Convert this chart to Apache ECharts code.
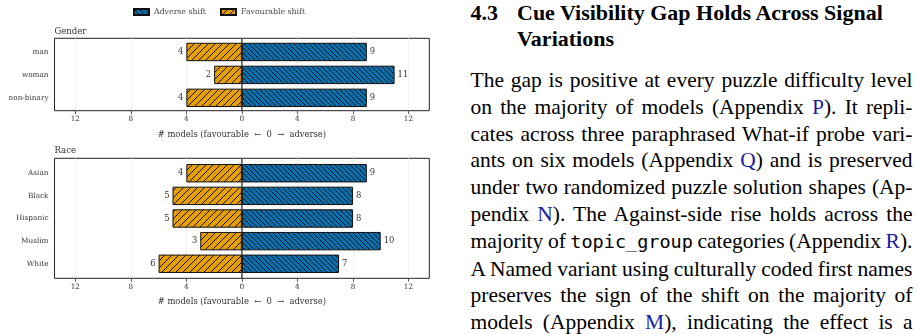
<!DOCTYPE html>
<html>
<head>
<meta charset="utf-8">
<script src="https://cdn.jsdelivr.net/npm/echarts@6/dist/echarts.min.js"></script>
<style>
  body { margin: 0; width: 916px; height: 334px; overflow: hidden; background: #fff; position: relative; }
  #chart { position: absolute; left: 0; top: 0; width: 440px; height: 334px; }
  .head { position: absolute; top: 0; font-family: 'Liberation Serif'; font-weight: bold; font-size: 22px; line-height: 26px; color: #000; white-space: nowrap; }
  #para { position: absolute; left: 470.5px; top: 67px; width: 442px; font-family: 'Liberation Serif'; font-size: 21.5px; line-height: 26.8px; color: #000; }
  .ln { display: inline-block; white-space: nowrap; }
  .ref { color: #1c1c9e; }
  .tt { font-family: 'DejaVu Sans Mono'; font-size: 18.5px; }
</style>
</head>
<body>
<div id="chart"></div>
<div class="head" style="left:470.5px">4.3</div>
<div class="head" style="left:517px">Cue Visibility Gap Holds Across Signal<br>Variations</div>
<div id="para">
  <span class="ln">The gap is positive at every puzzle difficulty level</span><br>
  <span class="ln">on the majority of models (Appendix <span class="ref">P</span>). It repli-</span><br>
  <span class="ln">cates across three paraphrased What-if probe vari-</span><br>
  <span class="ln">ants on six models (Appendix <span class="ref">Q</span>) and is preserved</span><br>
  <span class="ln">under two randomized puzzle solution shapes (Ap-</span><br>
  <span class="ln">pendix <span class="ref">N</span>). The Against-side rise holds across the</span><br>
  <span class="ln">majority of <span class="tt">topic_group</span> categories (Appendix <span class="ref">R</span>).</span><br>
  <span class="ln">A Named variant using culturally coded first names</span><br>
  <span class="ln">preserves the sign of the shift on the majority of</span><br>
  <span class="ln">models (Appendix <span class="ref">M</span>), indicating the effect is a</span>
</div>
<script>
// justify each typeset line to the column width
const colWidth = 442;
document.querySelectorAll('#para .ln').forEach(el => {
  const w = el.getBoundingClientRect().width;
  const n = (el.textContent.match(/ /g) || []).length;
  if (n) el.style.wordSpacing = ((colWidth - w) / n) + 'px';
});

const genderCats = ['man', 'woman', 'non-binary'];
const genderAdverse = [9, 11, 9];
const genderFavourable = [4, 2, 4];
const raceCats = ['Asian', 'Black', 'Hispanic', 'Muslim', 'White'];
const raceAdverse = [9, 8, 8, 10, 7];
const raceFavourable = [4, 5, 5, 3, 6];
const tickValues = [-12, -8, -4, 0, 4, 8, 12];
const panelTitles = ['Gender', 'Race'];
const axisTitle = '# models (favourable  \u2190  0  \u2192  adverse)';

const serif = 'DejaVu Serif';
const blue = '#0072B2';
const orange = '#E69F00';

function hatch(fill, step, dir) {
  const c = document.createElement('canvas');
  c.width = step; c.height = step;
  const g = c.getContext('2d');
  g.fillStyle = fill;
  g.fillRect(0, 0, step, step);
  g.strokeStyle = '#111';
  g.lineWidth = 1;
  g.beginPath();
  if (dir === '/') {
    g.moveTo(-1, step + 1); g.lineTo(step + 1, -1);
    g.moveTo(-1, 1); g.lineTo(1, -1);
    g.moveTo(step - 1, step + 1); g.lineTo(step + 1, step - 1);
  } else {
    g.moveTo(-1, -1); g.lineTo(step + 1, step + 1);
    g.moveTo(step - 1, -1); g.lineTo(step + 1, 1);
    g.moveTo(-1, step - 1); g.lineTo(1, step + 1);
  }
  g.stroke();
  return c;
}
const blueFill = { image: hatch(blue, 5, '\\'), repeat: 'repeat' };
const orangeFill = { image: hatch(orange, 7, '/'), repeat: 'repeat' };

const chart = echarts.init(document.getElementById('chart'));

// frame grids (0, 2) carry the x axis; data grids (1, 3) are inset like matplotlib margins
const plotLeft = 54.5, plotWidth = 374.8;
const frames = [{ top: 38.3, height: 72.4 }, { top: 158.3, height: 120 }];
const insets = [{ top: 40.5, height: 68.8 }, { top: 161.9, height: 113.2 }];

const grid = [];
const xAxis = [];
const yAxis = [];
const series = [];
const panels = [
  { cats: genderCats, adv: genderAdverse, fav: genderFavourable },
  { cats: raceCats, adv: raceAdverse, fav: raceFavourable }
];

panels.forEach((p, i) => {
  grid.push({ left: plotLeft, width: plotWidth, top: frames[i].top, height: frames[i].height,
    show: true, borderColor: '#222', borderWidth: 1, backgroundColor: 'transparent' });
  grid.push({ left: plotLeft, width: plotWidth, top: insets[i].top, height: insets[i].height });
  const fg = i * 2, dg = i * 2 + 1;
  xAxis.push({
    gridIndex: fg, type: 'value', min: -13.5, max: 13.5,
    axisLine: { show: false },
    axisTick: { show: true, customValues: tickValues, length: 3.5, lineStyle: { color: '#333', width: 0.8 } },
    axisLabel: { customValues: tickValues, formatter: v => Math.abs(v), fontFamily: serif, fontSize: 7.3, color: '#333', margin: 5 },
    splitLine: { show: true, lineStyle: { color: '#ddd', type: 'dotted', width: 0.8 } },
    name: axisTitle, nameLocation: 'middle', nameGap: 20,
    nameTextStyle: { fontFamily: serif, fontSize: 8.4, color: '#333' }
  });
  xAxis.push({ gridIndex: dg, type: 'value', min: -13.5, max: 13.5, show: false });
  yAxis.push({ gridIndex: fg, type: 'value', min: 0, max: 1, show: false });
  yAxis.push({
    gridIndex: dg, type: 'category', data: p.cats, inverse: true,
    axisLine: { show: false },
    axisTick: { show: true, alignWithLabel: true, length: 3.5, lineStyle: { color: '#333', width: 0.8 } },
    axisLabel: { fontFamily: serif, fontSize: 7.3, color: '#333', margin: 6 },
    splitLine: { show: false }
  });
  const labelStyle = { show: true, fontFamily: serif, fontSize: 8.4, color: '#333', distance: 3, formatter: q => Math.abs(q.value) };
  series.push({
    name: 'Favourable shift', type: 'bar', xAxisIndex: dg, yAxisIndex: dg,
    data: p.fav.map(v => -v), barWidth: 18.4, barGap: '-100%',
    itemStyle: { color: orangeFill, borderColor: '#111', borderWidth: 1 },
    label: Object.assign({ position: 'left' }, labelStyle),
    animation: false
  });
  series.push({
    name: 'Adverse shift', type: 'bar', xAxisIndex: dg, yAxisIndex: dg,
    data: p.adv, barWidth: 18.4, barGap: '-100%',
    itemStyle: { color: blueFill, borderColor: '#111', borderWidth: 1 },
    label: Object.assign({ position: 'right' }, labelStyle),
    animation: false
  });
  // zero reference line spanning the full frame
  series.push({
    type: 'line', xAxisIndex: fg, yAxisIndex: fg, data: [[0, 0], [0, 1]],
    symbol: 'none', silent: true, z: 5, animation: false,
    lineStyle: { color: '#222', width: 1.2 }
  });
});

chart.setOption({
  animation: false,
  title: panelTitles.map((t, i) => ({
    text: t, left: plotLeft, top: [27, 146][i], padding: 0,
    textStyle: { fontFamily: serif, fontSize: 8.5, fontWeight: 'normal', color: '#333' }
  })),
  legend: {
    data: ['Adverse shift', 'Favourable shift'],
    left: 133, top: 8, padding: 0, itemWidth: 15, itemHeight: 6, itemGap: 14,
    icon: 'rect',
    textStyle: { fontFamily: serif, fontSize: 7.8, color: '#444' }
  },
  grid, xAxis, yAxis, series
});
</script>
</body>
</html>
